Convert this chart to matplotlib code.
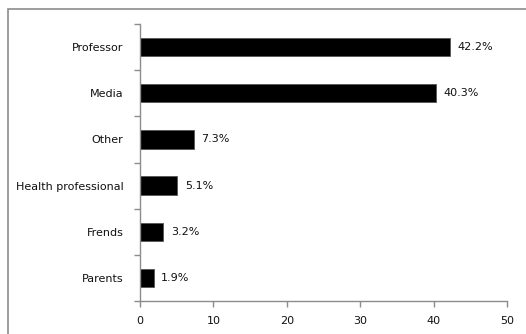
import matplotlib.pyplot as plt
from matplotlib.patches import Rectangle

categories = ["Professor", "Media", "Other", "Health professional", "Frends", "Parents"]
values = [42.2, 40.3, 7.3, 5.1, 3.2, 1.9]
xticks = [0, 10, 20, 30, 40, 50]

W, H = 526, 334
fig = plt.figure(figsize=(W / 100, H / 100), dpi=100)

# outer chart frame (only left and top edges show)
fig.patches.append(Rectangle((8 / W, -0.1), 1.2, 1 - 9 / H + 0.1, transform=fig.transFigure,
                             fill=False, edgecolor="#8c8c8c", linewidth=1.2))

ax = fig.add_axes([140 / W, 1 - 301 / H, (507 - 140) / W, (301 - 24) / H])

pos = list(range(len(categories)))[::-1]
ax.barh(pos, values, height=0.4, color="black", edgecolor="#555555", linewidth=0.6)
for p, v in zip(pos, values):
    ax.text(v + 1.0, p, f"{v}%", va="center", ha="left", fontsize=8, color="#111111")

ax.set_xlim(0, 50)
ax.set_ylim(-0.5, len(categories) - 0.5)
ax.set_xticks(xticks)
ax.set_yticks(pos)
ax.set_yticklabels(categories)
ax.set_yticks([p + 0.5 for p in range(-1, len(categories))], minor=True)

for s in ["top", "right"]:
    ax.spines[s].set_visible(False)
for s in ["left", "bottom"]:
    ax.spines[s].set_color("#8c8c8c")
    ax.spines[s].set_linewidth(1.0)

ax.tick_params(axis="y", which="major", length=0, pad=12, labelsize=8, labelcolor="#111111")
ax.tick_params(axis="y", which="minor", length=4, color="#8c8c8c", width=1.0)
ax.tick_params(axis="x", length=4, color="#8c8c8c", width=1.0, labelsize=8,
               labelcolor="#111111", pad=7)

fig.savefig("out.png", dpi=100)
